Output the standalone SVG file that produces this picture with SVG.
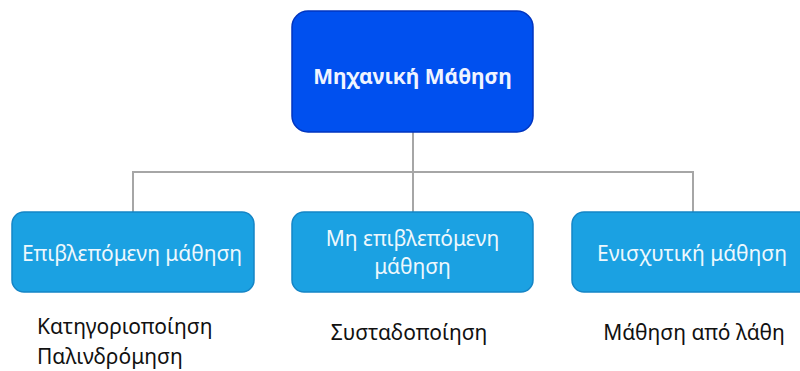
<svg xmlns="http://www.w3.org/2000/svg" width="800" height="371" viewBox="0 0 800 371">
  <style>
    .root { fill: #0050ef; stroke: #0035c0; stroke-width: 1.5; }
    .child { fill: #1ba1e2; stroke: #1585c6; stroke-width: 1.5; }
    .conn { fill: none; stroke: #a6a6a6; stroke-width: 2; }
    .t { font-family: "Noto Sans", "Liberation Sans", sans-serif; text-anchor: middle; }
    .root-label { fill: #f0f4ff; font-size: 21px; font-weight: bold; }
    .child-label { fill: #eef8fd; font-size: 21px; }
    .note { fill: #111111; font-size: 21px; }
  </style>

  <g id="connectors">
    <path class="conn" d="M413 132 V172"/>
    <path class="conn" d="M133 212 V172 H693 V212"/>
    <path class="conn" d="M413 172 V212"/>
  </g>

  <g id="machine-learning">
    <rect class="root" x="292" y="11" width="241" height="121" rx="16"/>
    <text class="t root-label" x="412.5" y="84">Μηχανική Μάθηση</text>
  </g>

  <g id="supervised">
    <rect class="child" x="12" y="212" width="242" height="80" rx="12"/>
    <text class="t child-label" x="132" y="261">Επιβλεπόμενη μάθηση</text>
  </g>

  <g id="unsupervised">
    <rect class="child" x="292" y="212" width="241" height="80" rx="12"/>
    <text class="t child-label" x="412.5" y="246">Μη επιβλεπόμενη</text>
    <text class="t child-label" x="412.5" y="274">μάθηση</text>
  </g>

  <g id="reinforcement">
    <rect class="child" x="572" y="212" width="242" height="80" rx="12"/>
    <text class="t child-label" x="692" y="261">Ενισχυτική μάθηση</text>
  </g>

  <g id="supervised-examples">
    <text class="t note" x="37" y="334" style="text-anchor:start">Κατηγοριοποίηση</text>
    <text class="t note" x="37" y="364" style="text-anchor:start">Παλινδρόμηση</text>
  </g>

  <g id="unsupervised-examples">
    <text class="t note" x="409" y="340">Συσταδοποίηση</text>
  </g>

  <g id="reinforcement-examples">
    <text class="t note" x="694" y="340">Μάθηση από λάθη</text>
  </g>
</svg>
